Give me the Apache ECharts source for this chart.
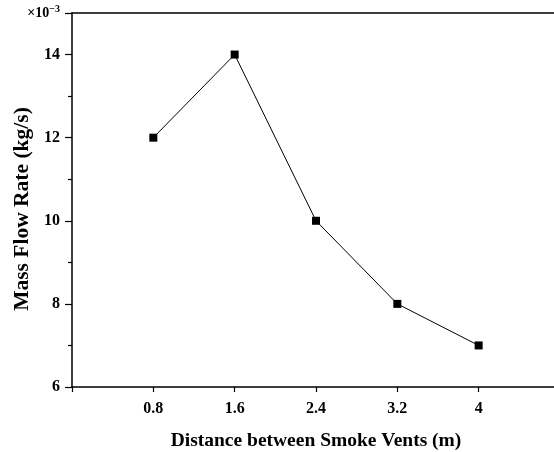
<!DOCTYPE html>
<html>
<head>
<meta charset="utf-8">
<script src="https://cdn.jsdelivr.net/npm/echarts@6/dist/echarts.min.js"></script>
<style>
  html, body { margin: 0; padding: 0; background: #fff; overflow: hidden; }
  #main { width: 554px; height: 452px; }
</style>
</head>
<body>
<div id="main"></div>
<script>
// 数据
var distance = [0.8, 1.6, 2.4, 3.2, 4];
var flowRate = [12, 14, 10, 8, 7]; // ×10^-3 kg/s

var xTicks = [0.8, 1.6, 2.4, 3.2, 4];
var yTicks = [6, 8, 10, 12, 14];

var points = distance.map(function (d, i) { return [d, flowRate[i]]; });

var font = "'Liberation Serif', 'Times New Roman', serif";

var myChart = echarts.init(document.getElementById("main"));
var option = {
  backgroundColor: "#fff",
  animation: false,
  grid: { left: 72, top: 13, width: 488, bottom: 65, containLabel: false, outerBoundsMode: "none" },
  xAxis: [
    {
      type: "value",
      min: 0,
      max: 4.8,
      interval: 0.8,
      name: "Distance between Smoke Vents (m)",
      nameLocation: "middle",
      nameGap: 44,
      nameMoveOverlap: false,
      nameTextStyle: { fontFamily: font, fontWeight: "bold", fontSize: 19.5, color: "#000" },
      axisLine: { onZero: false, lineStyle: { color: "#000", width: 1.5 } },
      axisTick: { inside: false, length: 5, lineStyle: { color: "#000", width: 1.2 } },
      axisLabel: {
        margin: 14,
        fontFamily: font, fontWeight: "bold", fontSize: 16, color: "#000",
        formatter: function (v) {
          return xTicks.some(function (t) { return Math.abs(t - v) < 1e-6; }) ? String(+v.toFixed(1)) : "";
        }
      },
      splitLine: { show: false }
    },
    {
      type: "value",
      position: "top",
      min: 0,
      max: 4.8,
      interval: 0.8,
      axisLine: { show: true, lineStyle: { color: "#000", width: 1.5 } },
      axisTick: { show: false },
      axisLabel: { show: false },
      splitLine: { show: false }
    }
  ],
  yAxis: {
    type: "value",
    min: 6,
    max: 15,
    interval: 2,
    name: "Mass Flow Rate (kg/s)",
    nameLocation: "middle",
    nameGap: 39,
    nameMoveOverlap: false,
    nameTextStyle: { fontFamily: font, fontWeight: "bold", fontSize: 21.5, color: "#000", padding: [0, 18, 0, 0] },
    axisLine: { show: true, onZero: false, lineStyle: { color: "#000", width: 1.5 } },
    axisTick: { inside: false, length: 7, lineStyle: { color: "#000", width: 1.2 } },
    minorTick: { show: true, splitNumber: 2, length: 4, lineStyle: { color: "#000", width: 1.2 } },
    axisLabel: {
      margin: 12,
      fontFamily: font, fontWeight: "bold", fontSize: 16, color: "#000",
      formatter: function (v) {
        if (v === 15) return "{a|×10}{b|−3}";
        return yTicks.indexOf(v) >= 0 ? String(v) : "";
      },
      rich: {
        a: { fontFamily: font, fontWeight: "bold", fontSize: 14, color: "#000" },
        b: { fontFamily: font, fontWeight: "bold", fontSize: 10, color: "#000", padding: [0, 0, 7, 0] }
      }
    },
    splitLine: { show: false }
  },
  series: [
    {
      type: "line",
      data: points,
      symbol: "rect",
      symbolSize: 8,
      itemStyle: { color: "#000" },
      lineStyle: { color: "#000", width: 1 }
    }
  ]
};
option && myChart.setOption(option);
</script>
</body>
</html>
